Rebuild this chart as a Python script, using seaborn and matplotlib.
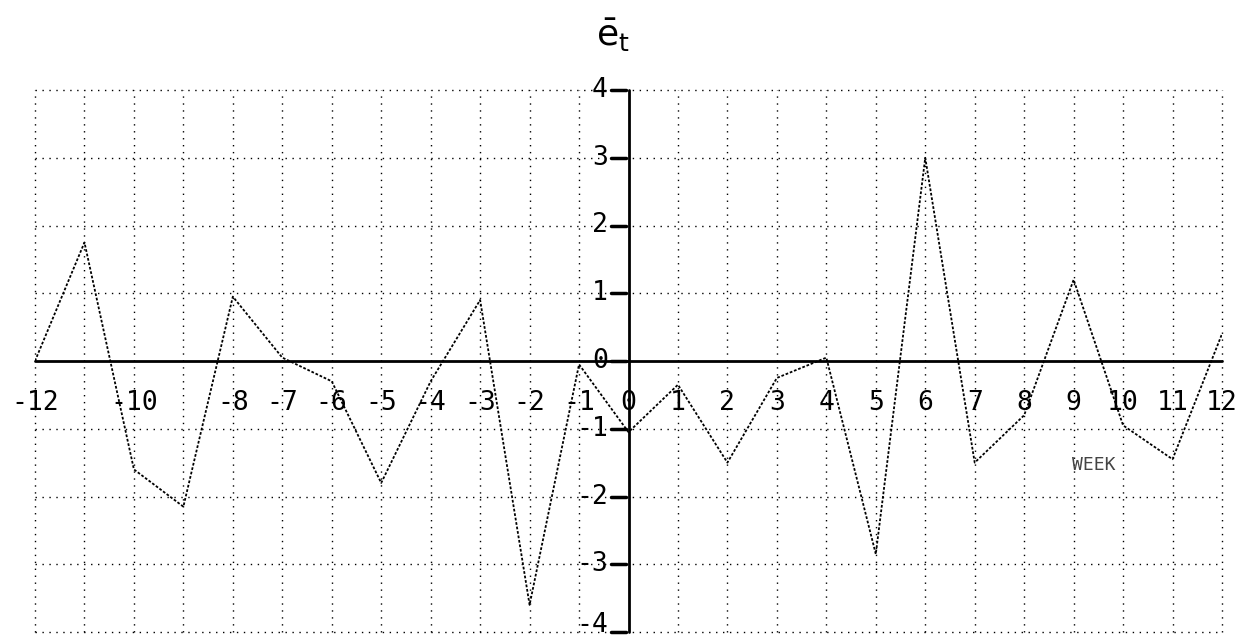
import matplotlib
matplotlib.use("Agg")
import matplotlib.pyplot as plt
import seaborn as sns
import pandas as pd

# ---- data ----
weeks = [-12, -11, -10, -9, -8, -7, -6, -5, -4, -3, -2, -1, 0,
         1, 2, 3, 4, 5, 6, 7, 8, 9, 10, 11, 12]
e_bar = [0.0, 1.75, -1.6, -2.15, 0.95, 0.05, -0.3, -1.8, -0.3, 0.9, -3.6, -0.05, -1.05,
         -0.35, -1.5, -0.25, 0.05, -2.85, 3.0, -1.5, -0.8, 1.2, -0.95, -1.45, 0.4]
x_tick_vals = [-12, -10, -8, -7, -6, -5, -4, -3, -2, -1, 0, 1, 2, 3, 4, 5, 6, 7, 8, 9, 10, 11, 12]
x_tick_labels = ["-12", "-10", "-8", "-7", "-6", "-5", "-4", "-3", "-2", "-1", "0",
                 "1", "2", "3", "4", "5", "6", "7", "8", "9", "10", "11", "12"]
y_tick_vals = [4, 3, 2, 1, 0, -1, -2, -3, -4]
y_tick_labels = ["4", "3", "2", "1", "0", "-1", "-2", "-3", "-4"]
x_axis_name = "WEEK"

df = pd.DataFrame({"week": weeks, "e": e_bar})

sns.set_style("white")
plt.rcParams["font.family"] = ["DejaVu Sans"]

W, H = 1240, 642
fig = plt.figure(figsize=(W / 100, H / 100), dpi=100)
ax = fig.add_axes([35 / W, 10 / H, (1222 - 35) / W, (632 - 90) / H])
ax.set_xlim(-12, 12)
ax.set_ylim(-4, 4)
for s in ax.spines.values():
    s.set_visible(False)
ax.set_xticks([])
ax.set_yticks([])

# dotted grid
for gx in range(-12, 13):
    if gx != 0:
        ax.axvline(gx, color="black", lw=1.0, ls=(0, (1, 4)), clip_on=False, zorder=1)
for gy in range(-4, 5):
    if gy != 0:
        ax.axhline(gy, color="black", lw=1.0, ls=(0, (1, 4)), clip_on=False, zorder=1)

# main axes
ax.axhline(0, color="black", lw=2.0, clip_on=False, zorder=2)
ax.plot([0, 0], [-4, 4], color="black", lw=2.0, clip_on=False, zorder=2)

# data trace
sns.lineplot(data=df, x="week", y="e", ax=ax, color="black", lw=1.3,
             linestyle=(0, (1.5, 1)), zorder=3, legend=False)
ax.set_xlabel("")
ax.set_ylabel("")

mono = "DejaVu Sans Mono"
for v, lab in zip(x_tick_vals, x_tick_labels):
    ax.text(v, -0.62, lab, ha="center", va="center", fontsize=19, family=mono,
            color="black", zorder=4)
for v, lab in zip(y_tick_vals, y_tick_labels):
    ypos = v + 0.1 if v == -4 else v
    ax.text(-0.42, ypos, lab, ha="right", va="center", fontsize=19, family=mono,
            color="black", zorder=4)
    ax.plot([-0.36, -0.05], [v, v], color="black", lw=2.5, zorder=4, clip_on=False)

ax.text(9.4, -1.53, x_axis_name, ha="center", va="center", fontsize=13,
        family=mono, color="#444444", zorder=4)

fig.text(0.494, 0.945, r"$\bar{\mathrm{e}}_{\mathrm{t}}$", ha="center", va="center",
         fontsize=26, color="black")

fig.savefig("out.png", dpi=100, facecolor="white")
